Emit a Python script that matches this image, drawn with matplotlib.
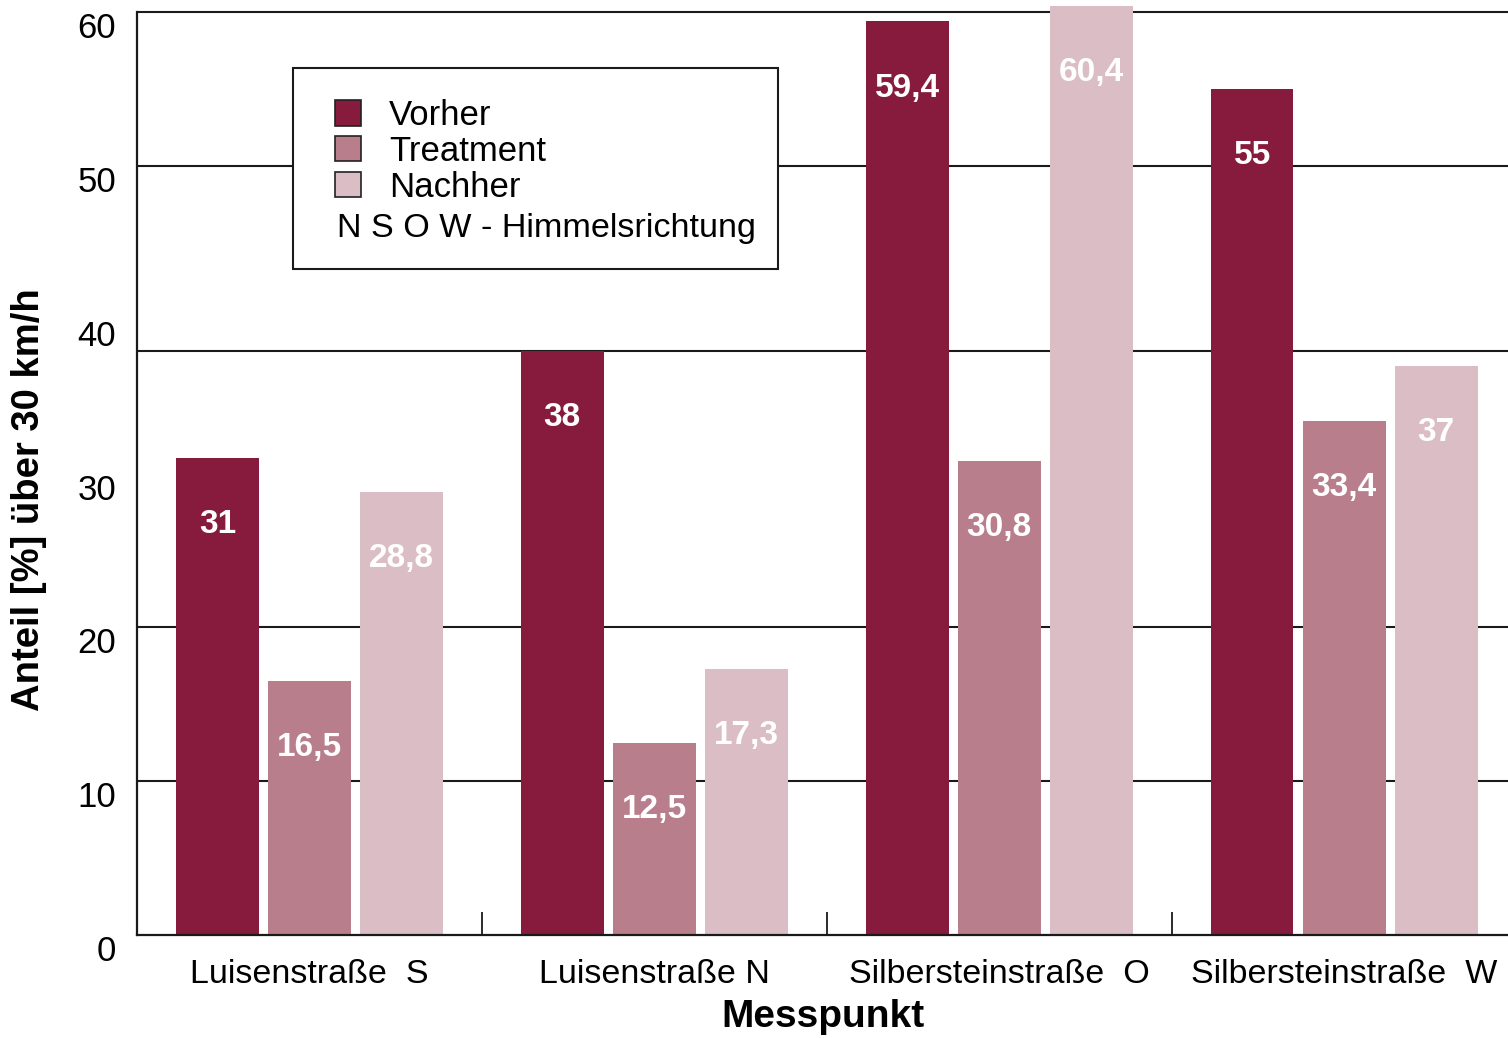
import matplotlib
matplotlib.use("Agg")
import matplotlib.pyplot as plt
from matplotlib.patches import Patch, Rectangle
from matplotlib.transforms import ScaledTranslation
import numpy as np

plt.rcParams['font.family'] = ['Liberation Sans', 'DejaVu Sans']

categories = ["Luisenstraße  S", "Luisenstraße N", "Silbersteinstraße  O", "Silbersteinstraße  W"]
series_names = ["Vorher", "Treatment", "Nachher"]
vorher = [31, 38, 59.4, 55]
treatment = [16.5, 12.5, 30.8, 33.4]
nachher = [28.8, 17.3, 60.4, 37]
yticks = [0, 10, 20, 30, 40, 50, 60]
grid_levels = [10, 20, 38, 50, 60]
legend_note = "N S O W - Himmelsrichtung"

colors = ["#861B3E", "#B87E8C", "#DBBEC5"]

fig = plt.figure(figsize=(15.08, 10.38), dpi=100)
ax = fig.add_axes([137/1508, 103/1038, 1 - 137/1508, (935-3)/1038])

x = np.arange(len(categories))
width = 0.24
offset = 0.267

for lvl in grid_levels:
    ax.axhline(lvl, color="#1a1a1a", lw=1.5, zorder=1)

for i, (vals, col) in enumerate(zip([vorher, treatment, nachher], colors)):
    pos = x + (i - 1) * offset
    ax.bar(pos, vals, width=width, color=col, zorder=2)
    for xp, v in zip(pos, vals):
        ax.annotate(f"{v:g}".replace(".", ","), (xp, v), xytext=(0, -48),
                    textcoords="offset points", ha="center", va="center",
                    color="white", fontsize=24, fontweight="bold", zorder=3)

ax.set_xlim(-0.5, 3.475)
ax.set_ylim(0, 60.6)

for s in ["top", "right"]:
    ax.spines[s].set_visible(False)
ax.spines["left"].set_bounds(0, 60)
ax.spines["left"].set_linewidth(1.6)
ax.spines["bottom"].set_linewidth(1.6)
ax.spines["left"].set_color("#1a1a1a")
ax.spines["bottom"].set_color("#1a1a1a")

ax.set_yticks(yticks)
ax.set_yticklabels([str(t) for t in yticks])
ax.tick_params(axis="y", length=0, pad=15, labelsize=25)
for lab in ax.get_yticklabels():
    lab.set_transform(lab.get_transform() + ScaledTranslation(0, -13/100, fig.dpi_scale_trans))

ax.set_xticks(x)
ax.set_xticklabels(categories)
ax.tick_params(axis="x", which="major", length=0, pad=17, labelsize=24.5)
ax.set_xticks(x[:-1] + 0.5, minor=True)
ax.tick_params(axis="x", which="minor", direction="in", length=16.5, width=1.3, color="#1a1a1a")

ax.set_xlabel("Messpunkt", fontsize=28, fontweight="bold", labelpad=7)
ax.set_ylabel("Anteil [%] über 30 km/h", fontsize=27.5, fontweight="bold")
ax.yaxis.set_label_coords(-0.066, 0.467)

# legend box
box = Rectangle((293/1508, 1 - 269/1038), 485/1508, 201/1038, transform=fig.transFigure,
                facecolor="white", edgecolor="#1a1a1a", lw=1.5, zorder=5)
fig.add_artist(box)
handles = [Patch(facecolor=c, edgecolor="#222222", lw=1.2) for c in colors]
leg = fig.legend(handles, series_names, loc="upper left",
                 bbox_to_anchor=(335/1508, 1 - 99/1038), frameon=False,
                 fontsize=25, handlelength=0.75, handleheight=0.75,
                 handletextpad=0.8, labelspacing=0.08, borderpad=0, borderaxespad=0)
leg.set_zorder(6)
fig.text(337/1508, 1 - 229/1038, legend_note, fontsize=24.6, ha="left", va="center", zorder=6)

fig.savefig("out.png", dpi=100)
